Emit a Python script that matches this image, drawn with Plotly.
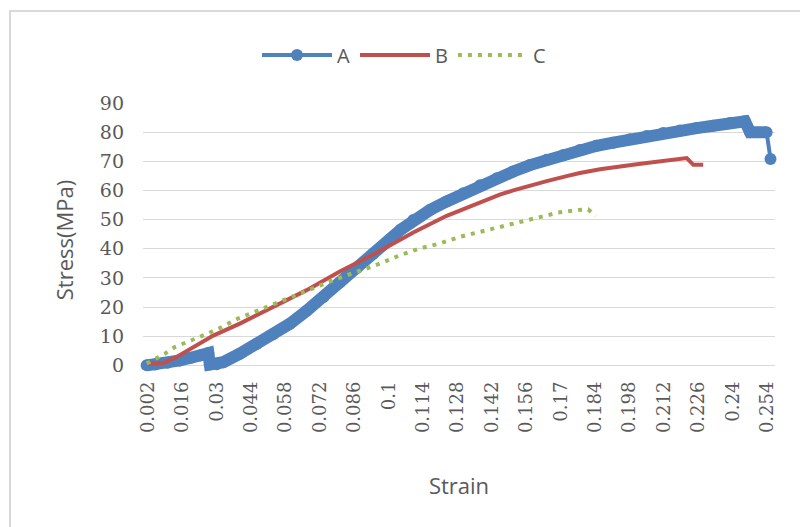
import plotly.graph_objects as go

# ---------------- data ----------------
strain_a = [0.0015, 0.005, 0.010, 0.015, 0.0195, 0.0232, 0.0266, 0.0272, 0.0300,
            0.0327, 0.0394, 0.0462, 0.0530, 0.0598, 0.0666, 0.0734, 0.0801, 0.0869,
            0.0937, 0.1005, 0.1050, 0.1100, 0.1168, 0.1236, 0.1304, 0.1372, 0.1440,
            0.1507, 0.1575, 0.1643, 0.1711, 0.1778, 0.1846, 0.1914, 0.1982, 0.2050,
            0.2117, 0.2185, 0.2253, 0.2321, 0.2389, 0.2450, 0.2471, 0.2538, 0.2554]
stress_a = [0.0, 0.3, 0.9, 1.7, 2.6, 3.4, 4.2, 0.3, 0.4,
            1.1, 4.0, 7.3, 10.7, 14.3, 18.7, 23.4, 28.4, 33.3,
            38.3, 43.3, 46.6, 49.9, 53.3, 56.2, 59.0, 61.8, 64.2,
            66.5, 68.7, 70.5, 72.2, 73.9, 75.3, 76.4, 77.6, 78.7,
            79.7, 80.6, 81.4, 82.2, 83.1, 83.7, 80.0, 80.0, 70.8]

strain_b = [0.0022, 0.0083, 0.0137, 0.0205, 0.0286, 0.0394, 0.0530, 0.0666, 0.0801,
            0.0856, 0.0937, 0.1032, 0.1100, 0.1236, 0.1372, 0.1452, 0.1507, 0.1588,
            0.1643, 0.1724, 0.1778, 0.1860, 0.1914, 0.1995, 0.2050, 0.2131, 0.2185,
            0.2213, 0.2240, 0.2280]
stress_b = [0.5, 0.8, 2.9, 6.3, 10.2, 14.3, 20.0, 25.8, 32.2,
            34.4, 38.0, 42.4, 45.6, 51.3, 56.0, 58.6, 60.0, 62.0,
            63.2, 64.9, 66.0, 67.3, 68.0, 68.8, 69.4, 70.1, 70.7,
            71.1, 68.8, 68.8]

strain_c = [0.0015, 0.0052, 0.0089, 0.0130, 0.0202, 0.0238, 0.0313, 0.0388, 0.0462,
            0.0543, 0.0618, 0.0693, 0.0774, 0.0856, 0.0930, 0.1005, 0.1046, 0.1127,
            0.1208, 0.1290, 0.1372, 0.1446, 0.1527, 0.1608, 0.1690, 0.1771, 0.1812,
            0.1843]
stress_c = [0.6, 2.3, 4.0, 6.3, 8.6, 10.0, 12.8, 16.1, 18.6,
            21.4, 24.1, 26.7, 29.2, 31.7, 33.8, 36.3, 37.8, 40.1,
            41.8, 44.1, 45.8, 47.6, 49.3, 51.0, 52.4, 53.3, 53.5,
            51.2]

x_tick_vals = [0.002, 0.016, 0.03, 0.044, 0.058, 0.072, 0.086, 0.1, 0.114, 0.128,
               0.142, 0.156, 0.17, 0.184, 0.198, 0.212, 0.226, 0.24, 0.254]
x_tick_text = ["0.002", "0.016", "0.03", "0.044", "0.058", "0.072", "0.086", "0.1",
               "0.114", "0.128", "0.142", "0.156", "0.17", "0.184", "0.198", "0.212",
               "0.226", "0.24", "0.254"]
y_tick_vals = [0, 10, 20, 30, 40, 50, 60, 70, 80, 90]

# ---------------- style ----------------
BLUE = "#4F81BD"
RED = "#C0504D"
GREEN = "#9BBB59"
GRAY_TXT = "#595959"
GRID = "#D9D9D9"
TITLE_FONT = "Open Sans, Liberation Sans, sans-serif"
TICK_FONT = "DejaVu Serif, Liberation Serif, serif"

W, H = 800, 527
ML, MR, MT, MB = 143, 25, 103, 150
PW, PH = W - ML - MR, H - MT - MB


def px_to_paper_x(px):
    return (px - ML) / PW


def px_to_paper_y(py):
    return (H - MB - py) / PH


fig = go.Figure()

# thick band of densely packed markers for A (the last, isolated point is
# joined by a thin segment only)
fig.add_trace(go.Scatter(
    x=strain_a[:-1], y=stress_a[:-1], mode="lines", name="A", legendgroup="A",
    showlegend=False, hoverinfo="skip",
    line=dict(color=BLUE, width=12), cliponaxis=False))
fig.add_trace(go.Scatter(
    x=strain_a, y=stress_a, mode="lines+markers", name="A", legendgroup="A",
    line=dict(color=BLUE, width=4),
    marker=dict(color=BLUE, size=12, symbol="circle"), cliponaxis=False))
fig.add_trace(go.Scatter(
    x=strain_b, y=stress_b, mode="lines", name="B",
    line=dict(color=RED, width=4), cliponaxis=False))
fig.add_trace(go.Scatter(
    x=strain_c, y=stress_c, mode="lines", name="C",
    line=dict(color=GREEN, width=4, dash="4px,6px"), cliponaxis=False))

fig.update_layout(
    width=W, height=H,
    margin=dict(l=ML, r=MR, t=MT, b=MB, pad=0, autoexpand=False),
    paper_bgcolor="white", plot_bgcolor="white",
    font=dict(family=TITLE_FONT, color=GRAY_TXT),
    showlegend=True,
    legend=dict(orientation="h", x=px_to_paper_x(404), y=px_to_paper_y(55),
                xanchor="center", yanchor="middle",
                font=dict(family=TITLE_FONT, size=20, color=GRAY_TXT),
                itemwidth=70, bgcolor="rgba(0,0,0,0)"),
    xaxis=dict(range=[0, (775 - ML) / 2457.0], tickmode="array",
               tickvals=x_tick_vals, ticktext=x_tick_text, tickangle=-90,
               showgrid=False, zeroline=False, showline=False, ticks="",
               tickfont=dict(family=TICK_FONT, size=18, color=GRAY_TXT),
               title=dict(text="Strain", standoff=46,
                          font=dict(family=TITLE_FONT, size=22, color=GRAY_TXT))),
    yaxis=dict(range=[-4, 90], tickmode="array", tickvals=y_tick_vals,
               showgrid=True, gridcolor=GRID, gridwidth=1,
               zeroline=False, showline=False, ticks="",
               ticklabelstandoff=18,
               tickfont=dict(family=TICK_FONT, size=19, color=GRAY_TXT),
               title=dict(text="Stress(MPa)", standoff=20,
                          font=dict(family=TITLE_FONT, size=22, color=GRAY_TXT))),
    shapes=[dict(type="rect", xref="paper", yref="paper",
                 x0=px_to_paper_x(10), x1=px_to_paper_x(806),
                 y0=px_to_paper_y(540), y1=px_to_paper_y(11),
                 line=dict(color=GRID, width=2), fillcolor="rgba(0,0,0,0)",
                 layer="below")],
)

fig.write_html("out.html")
